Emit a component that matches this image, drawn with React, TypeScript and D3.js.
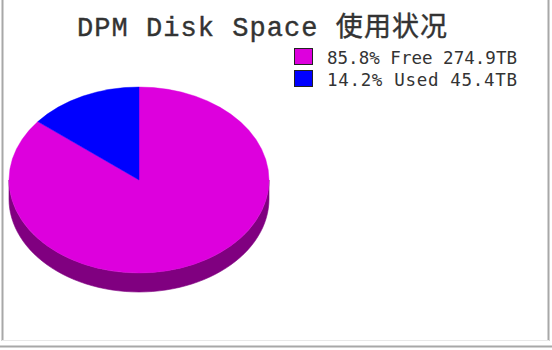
import React from "react";
import * as d3 from "d3";

const labels = ["Free", "Used"];
const percents = [85.8, 14.2];
const sizes = ["274.9TB", "45.4TB"];
const topColors = ["#dd00dd", "#0000ff"];
const sideColors = ["#800080", "#000080"];
const title = "DPM Disk Space 使用状况";

const W = 552, H = 350;
const cx = 139, cy = 180, rx = 130, ry = 93, depth = 19;

export default function App() {
  const pie = d3.pie<number>().sort(null).value((d) => d);
  const arcs = pie(percents);
  const arcGen = d3.arc<d3.PieArcDatum<number>>().innerRadius(0).outerRadius(rx);
  const sy = ry / rx;

  const pt = (a: number, dy = 0): [number, number] => [
    cx + rx * Math.sin(a),
    cy - ry * Math.cos(a) + dy,
  ];

  const sides = arcs.map((a, i) => {
    const s = Math.max(a.startAngle, Math.PI / 2);
    const e = Math.min(a.endAngle, (3 * Math.PI) / 2);
    if (e <= s) return null;
    const n = 60;
    const angs = d3.range(n + 1).map((k) => s + ((e - s) * k) / n);
    const top = angs.map((t) => pt(t));
    const bot = angs.slice().reverse().map((t) => pt(t, depth));
    const d = "M" + top.concat(bot).map((p) => p.join(",")).join("L") + "Z";
    return <path key={"s" + i} d={d} fill={sideColors[i]} stroke={sideColors[i]} strokeWidth={0.6} />;
  });

  return (
    <svg width={W} height={H} style={{ position: "absolute", left: 0, top: 0, background: "#fff" }}>
      <rect x={0} y={0} width={W} height={H} fill="#fff" />
      <line x1={2.5} y1={0} x2={2.5} y2={341} stroke="#a8a8a8" strokeWidth={2} />
      <line x1={548.5} y1={0} x2={548.5} y2={341} stroke="#a8a8a8" strokeWidth={2} />
      <line x1={2} y1={340.5} x2={549} y2={340.5} stroke="#e8e8e8" strokeWidth={1} />
      <line x1={0} y1={346.5} x2={W} y2={346.5} stroke="#a8a8a8" strokeWidth={2} />

      <text
        x={77}
        y={36}
        fontFamily="'Liberation Mono', 'Noto Sans CJK SC', monospace"
        fontSize={27}
        fill="#333"
        stroke="#333"
        strokeWidth={0.4}
        textLength={370}
        lengthAdjust="spacing"
      >
        {title}
      </text>

      {sides}
      <g transform={`translate(${cx},${cy}) scale(1,${sy})`}>
        {arcs.map((a, i) => (
          <path key={i} d={arcGen(a) || ""} fill={topColors[i]} stroke={topColors[i]} strokeWidth={0.5} />
        ))}
      </g>

      {labels.map((l, i) => (
        <g key={l} transform={`translate(294,${48 + i * 22})`}>
          <rect x={0.5} y={0.5} width={18} height={16} fill={topColors[i]} stroke="#222" strokeWidth={1} />
          <text
            x={33}
            y={16}
            fontFamily="'DejaVu Sans Mono', monospace"
            fontSize={17.5}
            fill="#333"
            textLength={190}
            lengthAdjust="spacing"
          >
            {`${percents[i].toFixed(1)}% ${l} ${sizes[i]}`}
          </text>
        </g>
      ))}
    </svg>
  );
}
